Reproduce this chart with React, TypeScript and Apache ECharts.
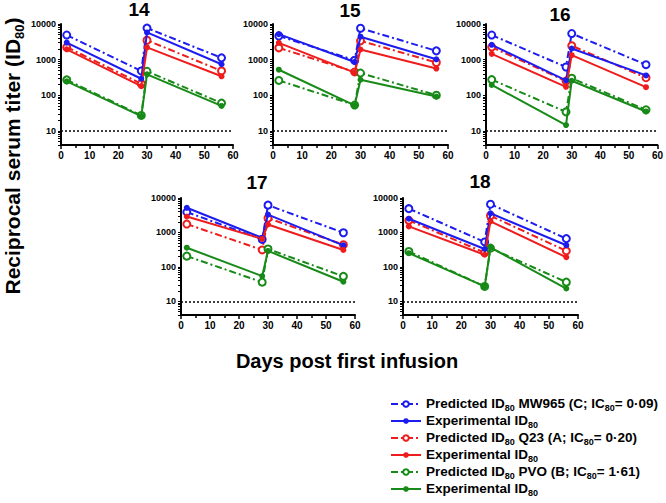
import React, { useEffect, useRef } from "react";
import * as echarts from "echarts";

// ---- Data ----
const days = [2, 28, 30, 56];
const panelTitles = ["14", "15", "16", "17", "18"];

// Panel 14
const p14PredC = [4900, 480, 7700, 1120];
const p14ExpC = [3000, 290, 5800, 740];
const p14PredA = [2240, 210, 3500, 480];
const p14ExpA = [1950, 180, 2200, 340];
const p14PredB = [270, 27, 470, 60];
const p14ExpB = [245, 26, 385, 50];
// Panel 15
const p15PredC = [4600, 960, 7600, 1760];
const p15ExpC = [5200, 860, 4400, 1020];
const p15PredA = [2140, 450, 3380, 830];
const p15ExpA = [2960, 430, 1920, 560];
const p15PredB = [260, 53, 420, 100];
const p15ExpB = [520, 52, 272, 92];
// Panel 16
const p16PredC = [4900, 620, 5400, 720];
const p16ExpC = [2600, 260, 2050, 360];
const p16PredA = [2250, 250, 2450, 310];
const p16ExpA = [1450, 172, 1330, 168];
const p16PredB = [275, 34, 300, 39];
const p16ExpB = [195, 14.5, 255, 35];
// Panel 17
const p17PredC = [3900, 630, 6200, 980];
const p17ExpC = [5200, 700, 3300, 420];
const p17PredA = [1750, 310, 2600, 440];
const p17ExpA = [2900, 650, 1700, 310];
const p17PredB = [205, 36, 330, 53];
const p17ExpB = [360, 54, 290, 37];
// Panel 18
const p18PredC = [4900, 530, 6600, 660];
const p18ExpC = [2500, 330, 3600, 425];
const p18PredA = [2250, 260, 3050, 290];
const p18ExpA = [1500, 225, 2100, 190];
const p18PredB = [280, 27, 350, 36];
const p18ExpB = [250, 27, 365, 23.5];

const yLabelValues = [10, 100, 1000, 10000];
const xTickValues = [0, 10, 20, 30, 40, 50, 60];
const limitOfDetection = 10;

const seriesKeys = ["predC", "expC", "predA", "expA", "predB", "expB"];
const legendTexts: Record<string, string> = {
  predC: "{b|Predicted ID}{s|80}{b| MW965 (C; IC}{s|80}{b|= 0·09)}",
  expC: "{b|Experimental ID}{s|80}",
  predA: "{b|Predicted ID}{s|80}{b| Q23 (A; IC}{s|80}{b|= 0·20)}",
  expA: "{b|Experimental ID}{s|80}",
  predB: "{b|Predicted ID}{s|80}{b| PVO (B; IC}{s|80}{b|= 1·61)}",
  expB: "{b|Experimental ID}{s|80}",
};

const panelData = [
  [p14PredC, p14ExpC, p14PredA, p14ExpA, p14PredB, p14ExpB],
  [p15PredC, p15ExpC, p15PredA, p15ExpA, p15PredB, p15ExpB],
  [p16PredC, p16ExpC, p16PredA, p16ExpA, p16PredB, p16ExpB],
  [p17PredC, p17ExpC, p17PredA, p17ExpA, p17PredB, p17ExpB],
  [p18PredC, p18ExpC, p18PredA, p18ExpA, p18PredB, p18ExpB],
];

// ---- Styling / layout ----
const FONT = "'Liberation Sans', Arial, Helvetica, sans-serif";
const BLUE = "#1c1cf0";
const RED = "#ee1c1c";
const GREEN = "#178a17";
const colors = [BLUE, BLUE, RED, RED, GREEN, GREEN];

const grids = [
  { left: 61, top: 24, width: 172, height: 121 },
  { left: 273, top: 24, width: 175, height: 121 },
  { left: 486, top: 24, width: 173, height: 121 },
  { left: 181, top: 198, width: 174, height: 117 },
  { left: 403, top: 198, width: 175, height: 117 },
];
const titlePos = [
  [139, 9],
  [350, 10],
  [560, 14],
  [257, 182],
  [480, 181],
];

const minorLogTicks: number[] = [];
for (let e = 0; e <= 3; e++) {
  for (let m = 1; m <= 9; m++) {
    const v = m * Math.pow(10, e);
    if (v >= 4 && v <= 10000) minorLogTicks.push(v);
  }
}
minorLogTicks.push(10000);

const richStyles = (size: number, subSize: number) => ({
  b: {
    fontFamily: FONT,
    fontWeight: "bold",
    fontSize: size,
    color: "#000",
    lineHeight: size - 2,
    verticalAlign: "top",
  },
  s: {
    fontFamily: FONT,
    fontWeight: "bold",
    fontSize: subSize,
    color: "#000",
    verticalAlign: "bottom",
    padding: [Math.round(size * 0.5), 0, 0, 0],
  },
});

export default function App() {
  const ref = useRef<HTMLDivElement>(null);
  useEffect(() => {
    if (!ref.current) return;
    const chart = echarts.init(ref.current, undefined, { renderer: "svg" });

    const xAxes: any[] = [];
    const yAxes: any[] = [];
    const series: any[] = [];

    grids.forEach((g, gi) => {
      xAxes.push({
        gridIndex: gi,
        type: "value",
        min: 0,
        max: 60,
        interval: 10,
        axisLine: { show: true, onZero: false, lineStyle: { color: "#000", width: 2 } },
        axisTick: { show: true, length: 4, lineStyle: { color: "#000", width: 1.5 } },
        minorTick: { show: true, splitNumber: 2, length: 3, lineStyle: { color: "#000", width: 1.5 } },
        axisLabel: {
          color: "#000",
          fontFamily: FONT,
          fontWeight: "bold",
          fontSize: 10,
          margin: 5,
          customValues: xTickValues,
          formatter: (v: number) => String(v),
        },
        splitLine: { show: false },
      });
      yAxes.push({
        gridIndex: gi,
        type: "log",
        logBase: 10,
        min: 4,
        max: 10000,
        axisLine: { show: true, lineStyle: { color: "#000", width: 2 } },
        axisTick: {
          show: true,
          length: 3,
          lineStyle: { color: "#000", width: 1 },
          customValues: minorLogTicks,
        },
        axisLabel: {
          color: "#000",
          fontFamily: FONT,
          fontWeight: "bold",
          fontSize: 9,
          margin: 5,
          customValues: yLabelValues,
          formatter: (v: number) => String(Math.round(v)),
        },
        splitLine: { show: false },
      });
      panelData[gi].forEach((vals, si) => {
        const key = seriesKeys[si];
        const pred = key.startsWith("pred");
        const s: any = {
          name: key,
          type: "line",
          xAxisIndex: gi,
          yAxisIndex: gi,
          data: days.map((d, i) => [d, vals[i]]),
          symbol: pred ? "emptyCircle" : "circle",
          symbolSize: pred ? 7 : 6,
          itemStyle: { color: colors[si], borderColor: colors[si], borderWidth: pred ? 1.6 : 0 },
          lineStyle: {
            color: colors[si],
            width: 2,
            type: pred ? [7, 3, 2, 3] : "solid",
          },
          z: pred ? 3 : 4,
        };
        if (si === 5) {
          s.markLine = {
            silent: true,
            symbol: ["none", "none"],
            label: { show: false },
            lineStyle: { type: [2, 2], color: "#000", width: 1.5 },
            data: [{ yAxis: limitOfDetection }],
          };
        }
        series.push(s);
      });
    });

    const graphics: any[] = panelTitles.map((t, i) => ({
      type: "text",
      x: titlePos[i][0],
      y: titlePos[i][1],
      style: {
        text: t,
        font: `bold 19px ${FONT}`,
        fill: "#000",
        align: "center",
        verticalAlign: "middle",
      },
    }));
    graphics.push({
      type: "text",
      x: 347,
      y: 361,
      style: {
        text: "Days post first infusion",
        font: `bold 20px ${FONT}`,
        fill: "#000",
        align: "center",
        verticalAlign: "middle",
      },
    });
    graphics.push({
      type: "text",
      x: 14,
      y: 156,
      rotation: Math.PI / 2,
      style: {
        text: "{b|Reciprocal serum titer (ID}{s|80}{b|)}",
        rich: richStyles(21, 13),
        align: "center",
        verticalAlign: "middle",
      },
    });

    chart.setOption({
      animation: false,
      backgroundColor: "#fff",
      grid: grids.map((g) => ({ ...g, containLabel: false })),
      xAxis: xAxes,
      yAxis: yAxes,
      series,
      legend: {
        data: seriesKeys,
        orient: "vertical",
        left: 385,
        top: 391,
        itemWidth: 30,
        itemHeight: 7,
        itemGap: 1,
        formatter: (name: string) => legendTexts[name],
        textStyle: { color: "#000", fontFamily: FONT, rich: richStyles(13.5, 9) },
        selectedMode: false,
      },
      graphic: graphics,
    });
    return () => chart.dispose();
  }, []);
  return (
    <div
      ref={ref}
      style={{ position: "absolute", left: 0, top: 0, width: 666, height: 503 }}
    />
  );
}
